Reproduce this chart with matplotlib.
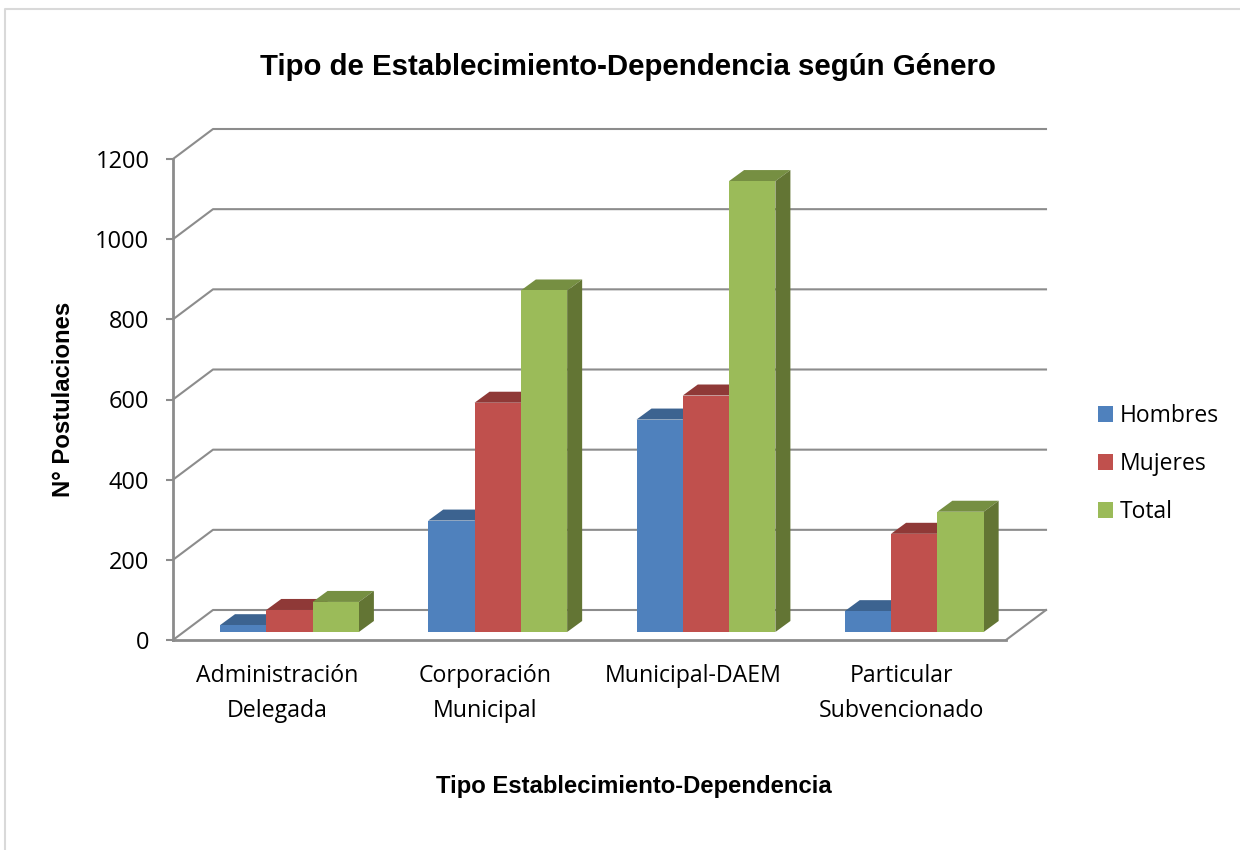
import matplotlib
matplotlib.use("Agg")
import matplotlib.pyplot as plt
from matplotlib.lines import Line2D

# Datos
categorias = ["Administración\nDelegada", "Corporación\nMunicipal", "Municipal-DAEM", "Particular\nSubvencionado"]
hombres = [17, 278, 530, 52]
mujeres = [55, 572, 590, 245]
total = [75, 852, 1125, 300]
nombres = ["Hombres", "Mujeres", "Total"]
ticks_y = [0, 200, 400, 600, 800, 1000, 1200]

# colores: frente, tapa, lado
col_frente = ["#4F81BD", "#C0504D", "#9BBB59"]
col_tapa = ["#3C6390", "#8F3937", "#768F42"]
col_lado = ["#375A85", "#7F3533", "#637534"]
col_grid = "#8C8C8C"

W, H = 1240, 850
fig = plt.figure(figsize=(W / 100, H / 100), dpi=100)
ax = fig.add_axes([173 / W, 1 - 640 / H, 833 / W, 481 / H])
ax.set_xlim(0, 4)
ax.set_ylim(0, 1200)

# pixeles por unidad, para pasar la profundidad del 3D a unidades de datos
px_x = 833 / 4
px_y = 481 / 1200
pared_dx = 40 / px_x
pared_dy = 30 / px_y
barra_dx = 15 / px_x
barra_dy = 11 / px_y
base = 8 / px_y
ancho = 46.3 / px_x
inicio = 47 / px_x

# paredes del fondo
for t in ticks_y:
    ax.plot([0, pared_dx, 4 + pared_dx], [t, t + pared_dy, t + pared_dy], color=col_grid, lw=1.5, clip_on=False, zorder=1)
ax.plot([4, 4 + pared_dx], [0, pared_dy], color=col_grid, lw=1.5, clip_on=False, zorder=1)

# barras
series = [hombres, mujeres, total]
for i in range(len(categorias)):
    for j, valores in enumerate(series):
        x0 = i + inicio + j * ancho
        x1 = x0 + ancho
        v = valores[i]
        top = base + v
        ax.fill([x0, x0 + barra_dx, x1 + barra_dx, x1], [top, top + barra_dy, top + barra_dy, top],
                color=col_tapa[j], lw=0, clip_on=False, zorder=2 + i + j * 0.1)
        ax.fill([x1, x1 + barra_dx, x1 + barra_dx, x1], [base, base + barra_dy, top + barra_dy, top],
                color=col_lado[j], lw=0, clip_on=False, zorder=2 + i + j * 0.1)
        ax.bar(x0, v, width=ancho, bottom=base, align="edge", color=col_frente[j], lw=0, clip_on=False,
               zorder=2.05 + i + j * 0.1, label=nombres[j] if i == 0 else None)

# ejes
for lado in ["top", "right"]:
    ax.spines[lado].set_visible(False)
for lado in ["left", "bottom"]:
    ax.spines[lado].set_color(col_grid)
    ax.spines[lado].set_linewidth(2)
ax.patch.set_alpha(0)
ax.set_yticks(ticks_y)
ax.set_xticks([i + 0.5 for i in range(4)])
ax.set_xticklabels(categorias, fontsize=16.7, family="Open Sans", linespacing=1.62, color="black")
ax.tick_params(axis="x", length=0, pad=17)
ax.tick_params(axis="y", length=5, width=1.5, color=col_grid, pad=12)
for et in ax.get_yticklabels():
    et.set_fontsize(17)
    et.set_family("Open Sans")

fig.text(628 / W, 1 - 67 / H, "Tipo de Establecimiento-Dependencia según Género", ha="center", va="center",
         fontsize=21.15, fontweight="bold", family="Liberation Sans")
fig.text(64 / W, 1 - 399 / H, "N° Postulaciones", rotation=90, ha="center", va="center",
         fontsize=17.2, fontweight="bold", family="Liberation Sans")
fig.text(634 / W, 1 - 787 / H, "Tipo Establecimiento-Dependencia", ha="center", va="center",
         fontsize=17.2, fontweight="bold", family="Liberation Sans")

# leyenda
h, l = ax.get_legend_handles_labels()
fig.legend(h, l, loc="upper left", bbox_to_anchor=(1091 / W, 1 - 397 / H), frameon=False,
           prop={"family": "Open Sans", "size": 16.5}, handlelength=0.66, handleheight=0.66,
           handletextpad=0.3, labelspacing=1.05, borderpad=0.3, borderaxespad=0)

# marco
fig.add_artist(Line2D([5 / W, 5 / W, 1], [0, 1 - 9 / H, 1 - 9 / H], color="#D9D9D9", lw=1.5))

fig.savefig("out.png", dpi=100)
